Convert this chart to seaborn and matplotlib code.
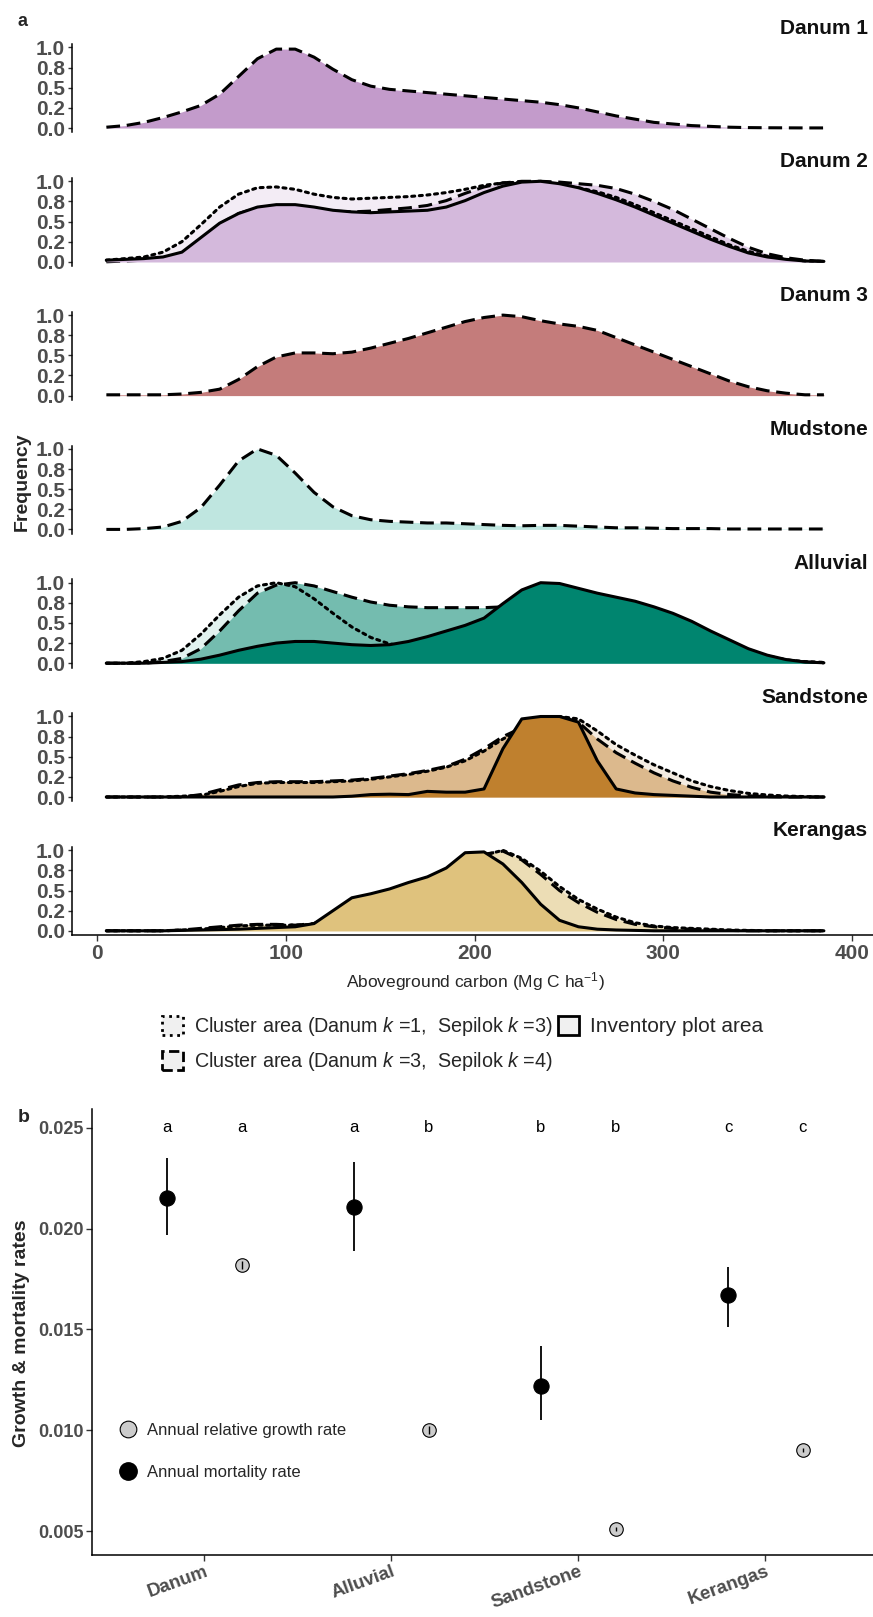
import numpy as np
import pandas as pd
import matplotlib
matplotlib.use('Agg')
import matplotlib.pyplot as plt
import seaborn as sns
from matplotlib.patches import Patch
from matplotlib.lines import Line2D

# Data
carbon = [5, 15, 25, 35, 45, 55, 65, 75, 85, 95, 105, 115, 125, 135, 145, 155, 165, 175, 185, 195,
          205, 215, 225, 235, 245, 255, 265, 275, 285, 295, 305, 315, 325, 335, 345, 355, 365, 375, 385]

danum1_dashed = [0.01, 0.03, 0.07, 0.13, 0.2, 0.28, 0.42, 0.64, 0.86, 0.98, 0.98, 0.88, 0.73, 0.6, 0.52, 0.48, 0.46, 0.44, 0.42, 0.4,
                 0.38, 0.36, 0.34, 0.32, 0.29, 0.25, 0.2, 0.15, 0.11, 0.07, 0.05, 0.03, 0.02, 0.01, 0.005, 0.003, 0.002, 0.001, 0.001]

danum2_dotted = [0.02, 0.04, 0.06, 0.12, 0.25, 0.46, 0.68, 0.84, 0.92, 0.93, 0.9, 0.84, 0.8, 0.78, 0.79, 0.8, 0.81, 0.83, 0.86, 0.9,
                 0.95, 0.98, 0.99, 0.98, 0.95, 0.92, 0.87, 0.8, 0.71, 0.61, 0.51, 0.41, 0.31, 0.21, 0.13, 0.07, 0.03, 0.01, 0.005]
danum2_dashed = [0.0, 0.01, 0.02, 0.04, 0.1, 0.28, 0.47, 0.6, 0.67, 0.7, 0.7, 0.67, 0.63, 0.62, 0.63, 0.65, 0.67, 0.7, 0.76, 0.85,
                 0.93, 0.98, 1.0, 1.0, 0.99, 0.97, 0.95, 0.91, 0.84, 0.75, 0.65, 0.53, 0.41, 0.29, 0.18, 0.1, 0.05, 0.02, 0.005]
danum2_solid = [0.02, 0.03, 0.04, 0.06, 0.12, 0.3, 0.48, 0.6, 0.68, 0.71, 0.71, 0.68, 0.64, 0.62, 0.61, 0.62, 0.63, 0.64, 0.68, 0.76,
                0.86, 0.94, 0.99, 1.0, 0.97, 0.92, 0.85, 0.77, 0.68, 0.58, 0.48, 0.38, 0.28, 0.19, 0.11, 0.06, 0.03, 0.01, 0.005]

danum3_dashed = [0.01, 0.01, 0.01, 0.01, 0.02, 0.04, 0.08, 0.2, 0.36, 0.48, 0.53, 0.53, 0.52, 0.54, 0.59, 0.65, 0.71, 0.78, 0.85, 0.92,
                 0.97, 1.0, 0.98, 0.93, 0.89, 0.86, 0.81, 0.72, 0.63, 0.54, 0.45, 0.36, 0.27, 0.18, 0.11, 0.06, 0.03, 0.01, 0.01]

mudstone_dashed = [0.0, 0.0, 0.01, 0.03, 0.1, 0.27, 0.55, 0.85, 1.0, 0.92, 0.7, 0.46, 0.28, 0.17, 0.12, 0.1, 0.09, 0.08, 0.08, 0.07,
                   0.06, 0.05, 0.045, 0.05, 0.05, 0.04, 0.03, 0.02, 0.02, 0.015, 0.01, 0.01, 0.01, 0.005, 0.005, 0.005, 0.005, 0.005, 0.005]

alluvial_dotted = [0.0, 0.0, 0.02, 0.06, 0.16, 0.36, 0.6, 0.82, 0.96, 1.0, 0.95, 0.8, 0.62, 0.45, 0.32, 0.24, 0.2, 0.2, 0.22, 0.26,
                   0.32, 0.42, 0.55, 0.65, 0.7, 0.7, 0.68, 0.64, 0.6, 0.55, 0.5, 0.43, 0.35, 0.26, 0.17, 0.09, 0.04, 0.02, 0.01]
alluvial_dashed = [0.0, 0.0, 0.0, 0.02, 0.06, 0.18, 0.4, 0.65, 0.87, 0.97, 1.0, 0.96, 0.89, 0.82, 0.76, 0.72, 0.7, 0.69, 0.69, 0.69,
                   0.69, 0.7, 0.72, 0.75, 0.78, 0.8, 0.8, 0.76, 0.74, 0.68, 0.6, 0.5, 0.38, 0.27, 0.17, 0.09, 0.04, 0.015, 0.005]
alluvial_solid = [0.0, 0.0, 0.0, 0.01, 0.02, 0.05, 0.1, 0.16, 0.21, 0.25, 0.27, 0.27, 0.25, 0.23, 0.22, 0.23, 0.27, 0.33, 0.4, 0.47,
                  0.56, 0.74, 0.91, 1.0, 0.99, 0.93, 0.87, 0.82, 0.77, 0.7, 0.62, 0.52, 0.4, 0.29, 0.18, 0.1, 0.045, 0.015, 0.005]

sandstone_dotted = [0.0, 0.0, 0.0, 0.0, 0.01, 0.02, 0.07, 0.13, 0.17, 0.18, 0.18, 0.18, 0.19, 0.2, 0.22, 0.25, 0.28, 0.32, 0.37, 0.45,
                    0.57, 0.72, 0.85, 0.95, 1.0, 0.97, 0.82, 0.65, 0.52, 0.4, 0.3, 0.2, 0.13, 0.08, 0.045, 0.025, 0.012, 0.005, 0.0]
sandstone_dashed = [0.0, 0.0, 0.0, 0.0, 0.0, 0.03, 0.09, 0.15, 0.18, 0.19, 0.19, 0.19, 0.2, 0.21, 0.23, 0.26, 0.29, 0.33, 0.38, 0.47,
                    0.6, 0.75, 0.86, 0.96, 1.0, 0.93, 0.72, 0.55, 0.42, 0.3, 0.2, 0.12, 0.06, 0.03, 0.015, 0.005, 0.0, 0.0, 0.0]
sandstone_solid = [0.0, 0.0, 0.0, 0.0, 0.0, 0.0, 0.0, 0.0, 0.0, 0.0, 0.0, 0.0, 0.0, 0.01, 0.03, 0.035, 0.03, 0.07, 0.06, 0.06,
                   0.1, 0.6, 0.97, 1.0, 1.0, 0.93, 0.45, 0.1, 0.05, 0.03, 0.02, 0.01, 0.0, 0.0, 0.0, 0.0, 0.0, 0.0, 0.0]

kerangas_dotted = [0.0, 0.0, 0.0, 0.0, 0.01, 0.02, 0.04, 0.06, 0.07, 0.07, 0.07, 0.08, 0.18, 0.33, 0.4, 0.46, 0.53, 0.6, 0.7, 0.83,
                   0.94, 1.0, 0.9, 0.74, 0.55, 0.39, 0.27, 0.17, 0.1, 0.06, 0.04, 0.03, 0.02, 0.01, 0.005, 0.0, 0.0, 0.0, 0.0]
kerangas_dashed = [0.0, 0.0, 0.0, 0.0, 0.01, 0.03, 0.05, 0.07, 0.08, 0.08, 0.07, 0.09, 0.2, 0.35, 0.42, 0.48, 0.55, 0.62, 0.72, 0.85,
                   0.95, 0.99, 0.88, 0.7, 0.5, 0.35, 0.23, 0.14, 0.08, 0.05, 0.03, 0.02, 0.01, 0.005, 0.0, 0.0, 0.0, 0.0, 0.0]
kerangas_solid = [0.0, 0.0, 0.0, 0.0, 0.005, 0.01, 0.015, 0.02, 0.03, 0.04, 0.05, 0.09, 0.25, 0.41, 0.46, 0.52, 0.6, 0.67, 0.78, 0.97,
                  0.98, 0.83, 0.6, 0.33, 0.13, 0.05, 0.02, 0.01, 0.005, 0.0, 0.0, 0.0, 0.0, 0.0, 0.0, 0.0, 0.0, 0.0, 0.0]

freq_ticks = [0, 0.25, 0.5, 0.75, 1.0]
freq_labels = ['0.0', '0.2', '0.5', '0.8', '1.0']
carbon_ticks = [0, 100, 200, 300, 400]

# panel b
sites = ['Danum', 'Alluvial', 'Sandstone', 'Kerangas']
mort_rate = [0.0215, 0.0211, 0.0122, 0.0167]
mort_lo = [0.0197, 0.0189, 0.0105, 0.0151]
mort_hi = [0.0235, 0.0233, 0.0142, 0.0181]
growth_rate = [0.0182, 0.0100, 0.0051, 0.0090]
growth_lo = [0.0180, 0.0098, 0.0050, 0.0089]
growth_hi = [0.0184, 0.0102, 0.0052, 0.0091]
mort_letters = ['a', 'a', 'b', 'c']
growth_letters = ['a', 'b', 'b', 'c']
rate_ticks = [0.005, 0.010, 0.015, 0.020, 0.025]

# panel layers: (values, fill colour, line style)
DOT = (0, (1.0, 1.5))
DASH = (0, (4.5, 2.2))
panels = [
    ('Danum 1', [(danum1_dashed, '#C39BCB', DASH)]),
    ('Danum 2', [(danum2_dotted, '#F3ECF5', DOT), (danum2_dashed, '#E3D0E8', DASH), (danum2_solid, '#D4B9DC', '-')]),
    ('Danum 3', [(danum3_dashed, '#C47C7B', DASH)]),
    ('Mudstone', [(mudstone_dashed, '#BFE6E0', DASH)]),
    ('Alluvial', [(alluvial_dotted, '#E2F2EF', DOT), (alluvial_dashed, '#74BCAF', DASH), (alluvial_solid, '#00856F', '-')]),
    ('Sandstone', [(sandstone_dotted, '#F4ECE2', DOT), (sandstone_dashed, '#DCB98D', DASH), (sandstone_solid, '#BF802E', '-')]),
    ('Kerangas', [(kerangas_dotted, '#F3EAD2', DOT), (kerangas_dashed, '#ECDDB5', DASH), (kerangas_solid, '#DFC27D', '-')]),
]

sns.set_theme(style='white')
plt.rcParams['font.family'] = ['Liberation Sans', 'DejaVu Sans']
plt.rcParams['mathtext.fontset'] = 'custom'
plt.rcParams['mathtext.rm'] = 'Liberation Sans'
plt.rcParams['mathtext.it'] = 'Liberation Sans:italic'

W, H = 873, 1617
TICK_GREY = '#4D4D4D'
fig = plt.figure(figsize=(W / 100, H / 100), dpi=100)


def box(left, top, right, bottom):
    return [left / W, 1 - bottom / H, (right - left) / W, (bottom - top) / H]


# Panel a: stacked density panels
unit = 80.5
for i, (name, layers) in enumerate(panels):
    y0 = 128 + 133.8 * i
    ax = fig.add_axes(box(72, y0 - 1.04 * unit, 873, y0 + 0.055 * unit))
    ax.patch.set_alpha(0)
    n = len(layers)
    for k, (vals, fill, ls) in enumerate(layers):
        # cluster outlines stay visible over each other's fills; the inventory fill covers them
        top = (k == n - 1) and n > 1
        fz = 10 if top else 2 + k
        lz = 11 if top else 6
        ax.fill_between(carbon, 0, vals, color=fill, lw=0, zorder=fz)
        sns.lineplot(x=carbon, y=vals, ax=ax, color='black', lw=2.2, linestyle=ls, zorder=lz,
                     dash_capstyle='round' if ls == DOT else 'butt')
    ax.set_xlim(-13.2, 411)
    ax.set_ylim(-0.055, 1.04)
    ax.set_yticks(freq_ticks)
    ax.set_yticklabels(freq_labels)
    ax.set_xlabel('')
    ax.set_ylabel('')
    last = i == len(panels) - 1
    sns.despine(ax=ax, bottom=not last)
    for s in ['left', 'bottom']:
        ax.spines[s].set_color('black')
        ax.spines[s].set_linewidth(1.1)
    ax.tick_params(axis='y', length=3, width=1, color='#333333', labelsize=15, labelcolor=TICK_GREY, pad=2, left=True)
    for lbl in ax.get_yticklabels():
        lbl.set_fontweight('bold')
    if last:
        ax.set_xticks(carbon_ticks)
        ax.tick_params(axis='x', length=4, width=1, color='#333333', labelsize=15, labelcolor=TICK_GREY, pad=2, bottom=True)
        for lbl in ax.get_xticklabels():
            lbl.set_fontweight('bold')
    else:
        ax.set_xticks([])
    fig.text(868 / W, 1 - (y0 - 100) / H, name, ha='right', va='center', fontsize=15, fontweight='bold', color='#111111')

fig.text(17 / W, 1 - 21 / H, 'a', ha='left', va='center', fontsize=13, fontweight='bold')
fig.text(22 / W, 1 - 482 / H, 'Frequency', rotation=90, ha='center', va='center', fontsize=14, fontweight='bold')
fig.text(475 / W, 1 - 982 / H, r'Aboveground carbon (Mg C ha$^{-1}$)', ha='center', va='center', fontsize=12.5)

# Legend for line types
legend_handles = [
    Patch(facecolor='#F0F0F0', edgecolor='black', linestyle=':', linewidth=2),
    Patch(facecolor='#F0F0F0', edgecolor='black', linestyle='--', linewidth=2),
    Patch(facecolor='#F0F0F0', edgecolor='black', linestyle='-', linewidth=2),
]
legend_labels = [
    r'Cluster area (Danum $\mathit{k}$ =1,  Sepilok $\mathit{k}$ =3)',
    r'Cluster area (Danum $\mathit{k}$ =3,  Sepilok $\mathit{k}$ =4)',
    'Inventory plot area',
]
leg = fig.legend(legend_handles, legend_labels, ncol=2, loc='upper left',
                 bbox_to_anchor=(162 / W, 1 - 1015 / H), frameon=False, fontsize=14.2,
                 handlelength=1.05, handleheight=1.1, handletextpad=0.55, labelspacing=0.6,
                 columnspacing=0.3, borderpad=0, borderaxespad=0)
leg.get_texts()[2].set_fontsize(15)

# Panel b: growth and mortality rates
rates = pd.DataFrame({
    'site': sites * 2,
    'pos': [i + 1 - 0.2 for i in range(4)] + [i + 1 + 0.2 for i in range(4)],
    'rate': mort_rate + growth_rate,
    'lo': mort_lo + growth_lo,
    'hi': mort_hi + growth_hi,
    'kind': ['mortality'] * 4 + ['growth'] * 4,
    'letter': mort_letters + growth_letters,
})
axb = fig.add_axes(box(92, 1109, 873, 1555))
mort = rates[rates['kind'] == 'mortality']
grow = rates[rates['kind'] == 'growth']
axb.vlines(mort['pos'], mort['lo'], mort['hi'], color='black', lw=1.3, zorder=2)
sns.scatterplot(data=mort, x='pos', y='rate', ax=axb, color='black', s=120, edgecolor='black', linewidth=0.8, zorder=3, legend=False)
sns.scatterplot(data=grow, x='pos', y='rate', ax=axb, color='#CCCCCC', s=95, edgecolor='black', linewidth=0.8, zorder=3, legend=False)
axb.vlines(grow['pos'], grow['lo'], grow['hi'], color='black', lw=1.0, zorder=4)
for _, r in rates.iterrows():
    axb.text(r['pos'], 0.025, r['letter'], ha='center', va='center', fontsize=12, color='black')

axb.set_xlim(0.4, 4.575)
axb.set_ylim(0.00381, 0.02594)
axb.set_xticks([1, 2, 3, 4])
axb.set_xticklabels(sites, rotation=20, ha='right', rotation_mode='anchor')
axb.set_yticks(rate_ticks)
axb.set_yticklabels(['%.3f' % t for t in rate_ticks])
axb.set_xlabel('')
axb.set_ylabel('')
sns.despine(ax=axb)
for s in ['left', 'bottom']:
    axb.spines[s].set_color('black')
    axb.spines[s].set_linewidth(1.1)
axb.tick_params(axis='y', length=4, width=1, color='#333333', labelsize=13, labelcolor=TICK_GREY, pad=2, left=True)
axb.tick_params(axis='x', length=4, width=1, color='#333333', labelsize=13.5, labelcolor=TICK_GREY, pad=2, bottom=True)
for lbl in axb.get_yticklabels() + axb.get_xticklabels():
    lbl.set_fontweight('bold')

rate_handles = [
    Line2D([], [], marker='o', linestyle='none', markersize=12, markerfacecolor='#CCCCCC', markeredgecolor='black', markeredgewidth=0.8),
    Line2D([], [], marker='o', linestyle='none', markersize=12.5, markerfacecolor='black', markeredgecolor='black'),
]
axb.legend(rate_handles, ['Annual relative growth rate', 'Annual mortality rate'], loc='upper left',
           bbox_to_anchor=(120 / W, 1 - 1423 / H), bbox_transform=fig.transFigure, frameon=False,
           fontsize=12, handlelength=1.0, handletextpad=0.6, labelspacing=1.6, borderpad=0, borderaxespad=0)

fig.text(18 / W, 1 - 1117 / H, 'b', ha='left', va='center', fontsize=14, fontweight='bold')
fig.text(22 / W, 1 - 1333 / H, 'Growth & mortality rates', rotation=90, ha='center', va='center', fontsize=14, fontweight='bold')

fig.savefig('out.png', dpi=100)
